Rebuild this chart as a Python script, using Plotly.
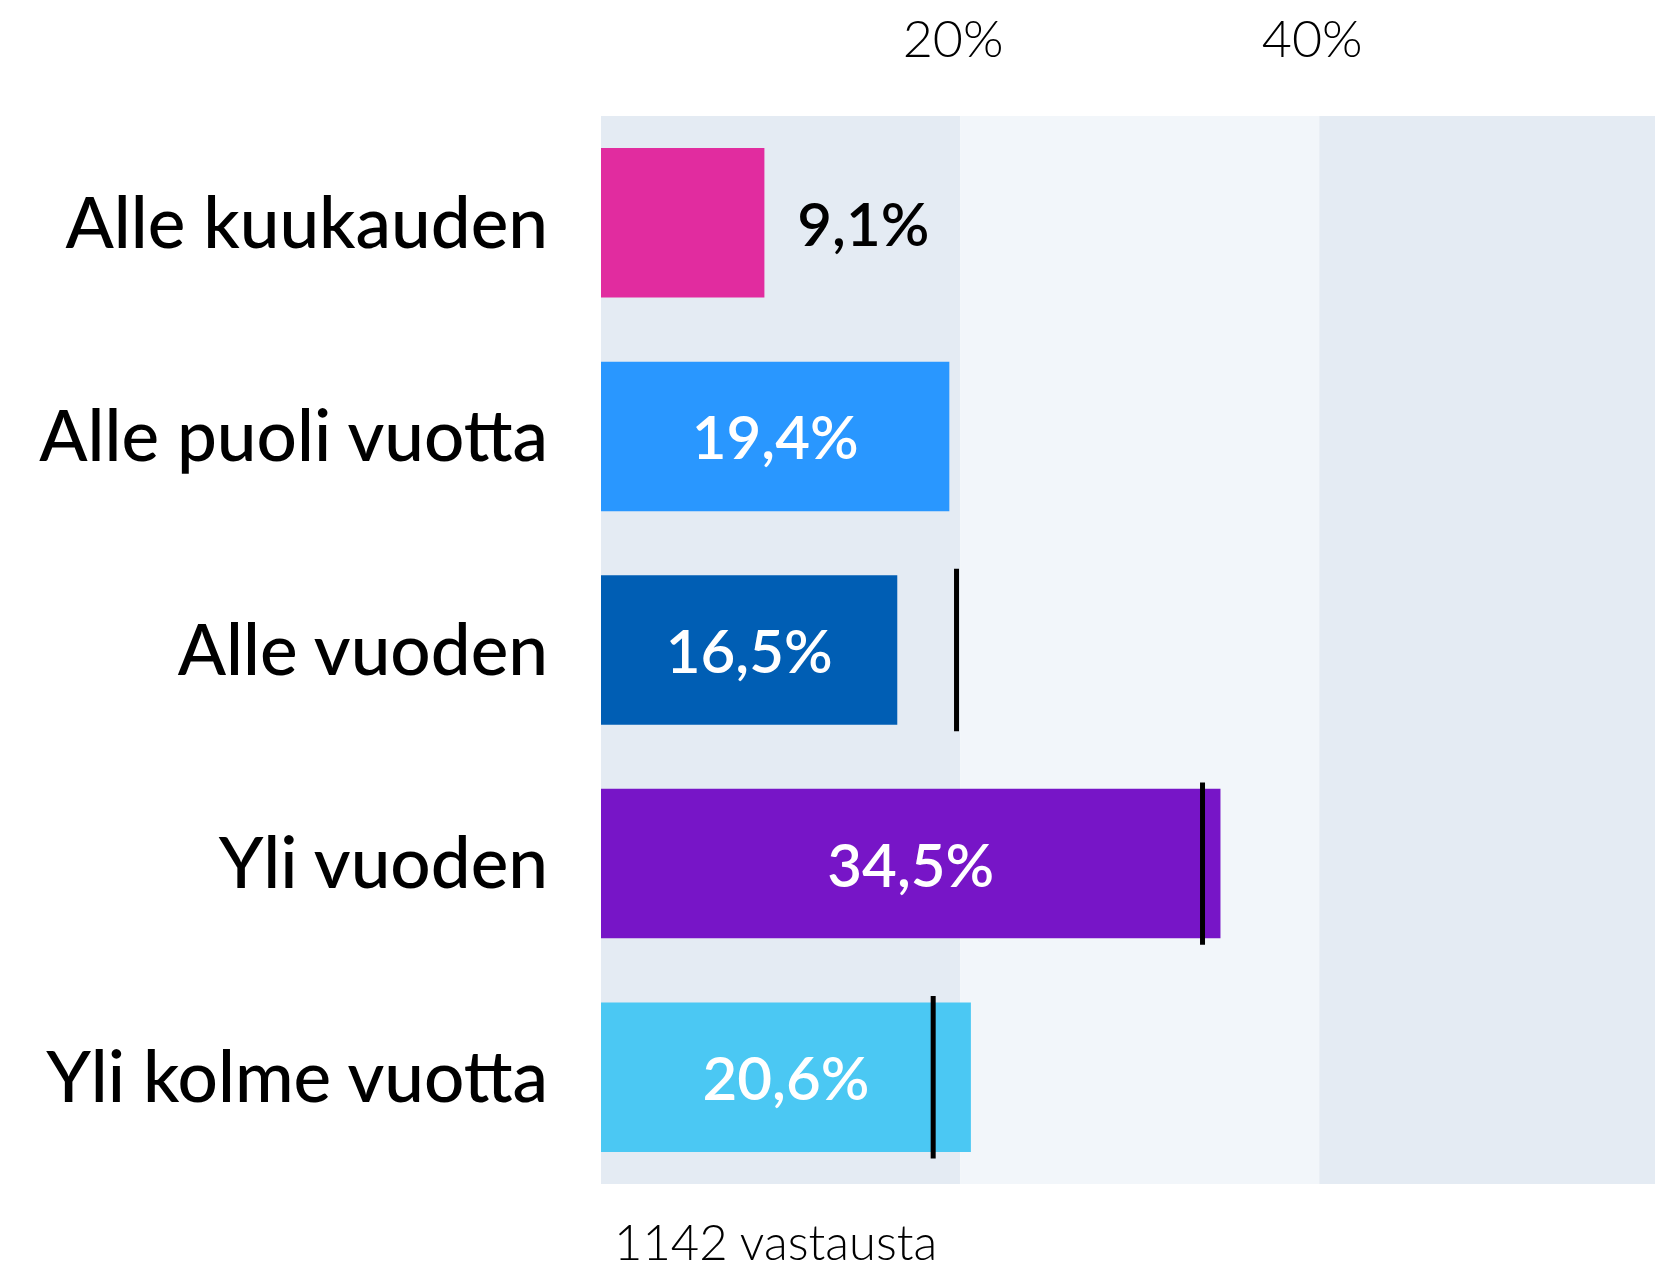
import plotly.graph_objects as go

categories = ["Alle kuukauden", "Alle puoli vuotta", "Alle vuoden", "Yli vuoden", "Yli kolme vuotta"]
values = [9.1, 19.4, 16.5, 34.5, 20.6]
bar_colors = ["#E12C9F", "#2997FF", "#005EB4", "#7715C7", "#4BC8F3"]
text_positions = ["outside", "inside", "inside", "inside", "inside"]
marker_categories = ["Alle vuoden", "Yli vuoden", "Yli kolme vuotta"]
marker_values = [19.8, 33.5, 18.5]
tick_values = [20, 40]
tick_labels = ["20%", "40%"]
band_edges = [0, 20, 40, 60]
band_colors = ["#E4EBF3", "#F2F6FA", "#E4EBF3"]
note = "1142 vastausta"

def fmt(v):
    return f"{v:.1f}".replace(".", ",") + "%"

texts = [("  " + fmt(v)) if p == "outside" else fmt(v) for v, p in zip(values, text_positions)]

fig = go.Figure()
fig.add_trace(go.Bar(
    y=categories, x=values, orientation="h",
    marker=dict(color=bar_colors, line=dict(width=0)),
    width=0.70,
    text=texts, textposition=text_positions,
    insidetextanchor="middle",
    insidetextfont=dict(family="Lato", size=60, color="white", weight=600),
    outsidetextfont=dict(family="Lato", size=60, color="black", weight=600),
    cliponaxis=False,
    hoverinfo="skip",
))
fig.add_trace(go.Scatter(
    y=marker_categories, x=marker_values, mode="markers",
    marker=dict(symbol="line-ns", size=116, line=dict(width=5, color="black"), color="black"),
    hoverinfo="skip",
))

for i in range(len(band_colors)):
    fig.add_shape(type="rect", xref="x", yref="paper",
                  x0=band_edges[i], x1=band_edges[i + 1], y0=0, y1=1,
                  fillcolor=band_colors[i], line=dict(width=0), layer="below")

fig.add_annotation(text=note, xref="paper", yref="paper", x=0.0105, y=-0.053,
                   xanchor="left", yanchor="middle", showarrow=False,
                   font=dict(family="Lato", size=49, color="black", weight=300))

fig.update_layout(
    width=1655, height=1266,
    margin=dict(l=601, r=0, t=116, b=82),
    paper_bgcolor="white", plot_bgcolor="white",
    showlegend=False,
    hovermode=False,
    xaxis=dict(range=[0, 58.7], side="top", tickvals=tick_values,
               ticktext=[t + "\u00a0" for t in tick_labels],
               showgrid=False, zeroline=False, showline=False, ticks="",
               ticklabelstandoff=48,
               tickfont=dict(family="Lato", size=52, color="black", weight=300)),
    yaxis=dict(range=[4.5, -0.5], showgrid=False, zeroline=False, showline=False, ticks="",
               ticklabelstandoff=52,
               tickfont=dict(family="Lato", size=71, color="black", weight=500)),
)

fig.write_html("out.html", config={"displayModeBar": False},
               post_script="document.body.style.margin='0';document.body.style.overflow='hidden';")
